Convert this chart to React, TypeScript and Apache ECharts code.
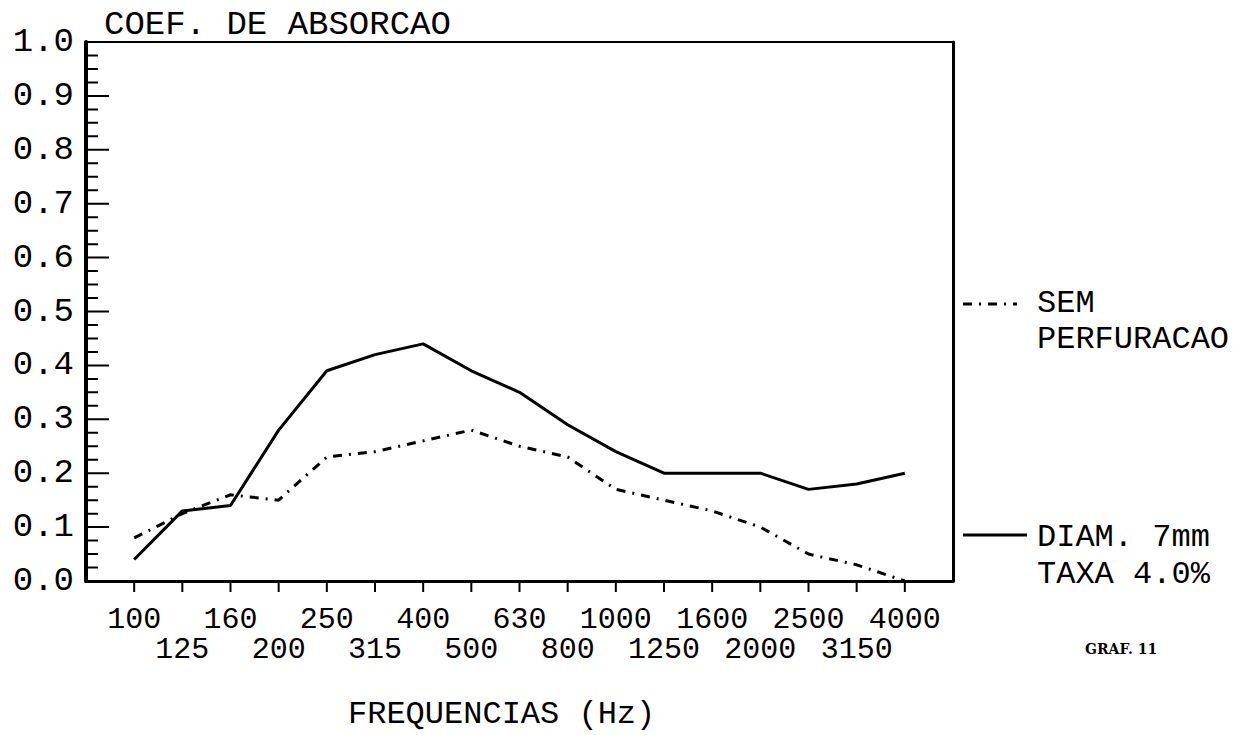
import React, { useEffect, useRef } from "react";
import * as echarts from "echarts";

const frequencies = ["100","125","160","200","250","315","400","500","630","800","1000","1250","1600","2000","2500","3150","4000"];
const diam7mm = [0.04,0.13,0.14,0.28,0.39,0.42,0.44,0.39,0.35,0.29,0.24,0.20,0.20,0.20,0.17,0.18,0.20];
const semPerfuracao = [0.08,0.125,0.16,0.15,0.23,0.24,0.26,0.28,0.25,0.23,0.17,0.15,0.13,0.10,0.05,0.03,0.0];
const yMajorTicks = [0.1,0.2,0.3,0.4,0.5,0.6,0.7,0.8,0.9];
const yMinorSteps = [0.025,0.05,0.075];

const FONT = "Liberation Mono";

export default function App() {
  const ref = useRef<HTMLDivElement>(null);
  useEffect(() => {
    if (!ref.current) return;
    const chart = echarts.init(ref.current, null, { renderer: "svg" });
    const cats = ["", ...frequencies, ""];
    const nCat = cats.length - 1; // value-axis span matching the category positions
    const yMinorTicks: number[] = [];
    [0, ...yMajorTicks].forEach((m) => yMinorSteps.forEach((s) => yMinorTicks.push(+(m + s).toFixed(3))));

    // tick segments in axis units (drawn by line series on a hidden value x axis)
    const majorLen = 0.4775; // ~23px
    const minorLen = 0.25; // ~12px
    const xTickLen = 0.0204; // ~11px
    const yMajorSeg: any[] = [];
    yMajorTicks.forEach((v) => { yMajorSeg.push([0, v], [majorLen, v], "-"); });
    const yMinorSeg: any[] = [];
    yMinorTicks.forEach((v) => { yMinorSeg.push([0, v], [minorLen, v], "-"); });
    const xSeg: any[] = [];
    frequencies.forEach((_, i) => { xSeg.push([i + 1, 0], [i + 1, -xTickLen], "-"); });

    const tickSeries = (name: string, data: any[]) => ({
      name,
      type: "line",
      xAxisIndex: 2,
      yAxisIndex: 0,
      data,
      symbol: "none",
      clip: false,
      connectNulls: false,
      silent: true,
      z: 5,
      lineStyle: { color: "#000", width: 2 },
    });

    const option: any = {
      animation: false,
      grid: { left: 86, top: 42, right: 305, bottom: 154, show: false, containLabel: false },
      xAxis: [
        {
          type: "category",
          data: cats,
          boundaryGap: false,
          position: "bottom",
          axisLine: { show: true, onZero: false, lineStyle: { color: "#000", width: 3 } },
          axisTick: { show: false },
          axisLabel: {
            show: true,
            interval: 0,
            color: "#000",
            fontFamily: FONT,
            fontSize: 30,
            lineHeight: 30,
            margin: 24,
            formatter: (v: string, i: number) => (v === "" ? "" : i % 2 === 1 ? v : "\n" + v),
          },
          splitLine: { show: false },
        },
        {
          type: "category",
          data: cats,
          boundaryGap: false,
          position: "top",
          axisLine: { show: true, onZero: false, lineStyle: { color: "#000", width: 2 } },
          axisTick: { show: false },
          axisLabel: { show: false },
          splitLine: { show: false },
        },
        {
          type: "value",
          min: 0,
          max: nCat,
          show: false,
          axisLine: { show: false, onZero: false },
          splitLine: { show: false },
        },
      ],
      yAxis: [
        {
          type: "value",
          min: 0,
          max: 1,
          interval: 0.1,
          position: "left",
          axisLine: { show: true, onZero: false, lineStyle: { color: "#000", width: 4 } },
          axisTick: { show: false },
          axisLabel: {
            show: true,
            color: "#000",
            fontFamily: FONT,
            fontSize: 34,
            margin: 12,
            formatter: (v: number) => v.toFixed(1),
          },
          splitLine: { show: false },
        },
        {
          type: "value",
          min: 0,
          max: 1,
          interval: 0.1,
          position: "right",
          axisLine: { show: true, onZero: false, lineStyle: { color: "#000", width: 3 } },
          axisTick: { show: false },
          axisLabel: { show: false },
          splitLine: { show: false },
        },
      ],
      series: [
        {
          name: "DIAM. 7mm TAXA 4.0%",
          type: "line",
          xAxisIndex: 0,
          yAxisIndex: 0,
          data: diam7mm.map((v, i) => [i + 1, v]),
          symbol: "none",
          lineStyle: { color: "#000", width: 3 },
        },
        {
          name: "SEM PERFURACAO",
          type: "line",
          xAxisIndex: 0,
          yAxisIndex: 0,
          data: semPerfuracao.map((v, i) => [i + 1, v]),
          symbol: "none",
          lineStyle: { color: "#000", width: 3, type: [9, 7, 2, 7] },
        },
        tickSeries("xTicks", xSeg),
        tickSeries("yMajorTicks", yMajorSeg),
        tickSeries("yMinorTicks", yMinorSeg),
      ],
      graphic: [
        { type: "text", left: 104, top: 8, style: { text: "COEF. DE ABSORCAO", font: `34px '${FONT}'`, fill: "#000" } },
        { type: "line", shape: { x1: 963, y1: 304, x2: 1017, y2: 304 }, style: { stroke: "#000", lineWidth: 3, lineDash: [9, 7, 2, 7] } },
        { type: "text", left: 1037, top: 287, style: { text: "SEM", font: `32px '${FONT}'`, fill: "#000" } },
        { type: "text", left: 1037, top: 323, style: { text: "PERFURACAO", font: `32px '${FONT}'`, fill: "#000" } },
        { type: "line", shape: { x1: 963, y1: 535, x2: 1027, y2: 535 }, style: { stroke: "#000", lineWidth: 3 } },
        { type: "text", left: 1037, top: 521, style: { text: "DIAM. 7mm", font: `32px '${FONT}'`, fill: "#000" } },
        { type: "text", left: 1037, top: 558, style: { text: "TAXA 4.0%", font: `32px '${FONT}'`, fill: "#000" } },
        { type: "text", left: 348, top: 698, style: { text: "FREQUENCIAS (Hz)", font: `32px '${FONT}'`, fill: "#000" } },
        { type: "text", left: 1085, top: 642, style: { text: "GRAF. 11", font: `bold 14px 'DejaVu Serif'`, fill: "#000" } },
      ],
    };
    chart.setOption(option);
    return () => chart.dispose();
  }, []);
  return <div ref={ref} style={{ width: 1258, height: 735, position: "absolute", left: 0, top: 0, background: "#fff" }} />;
}
